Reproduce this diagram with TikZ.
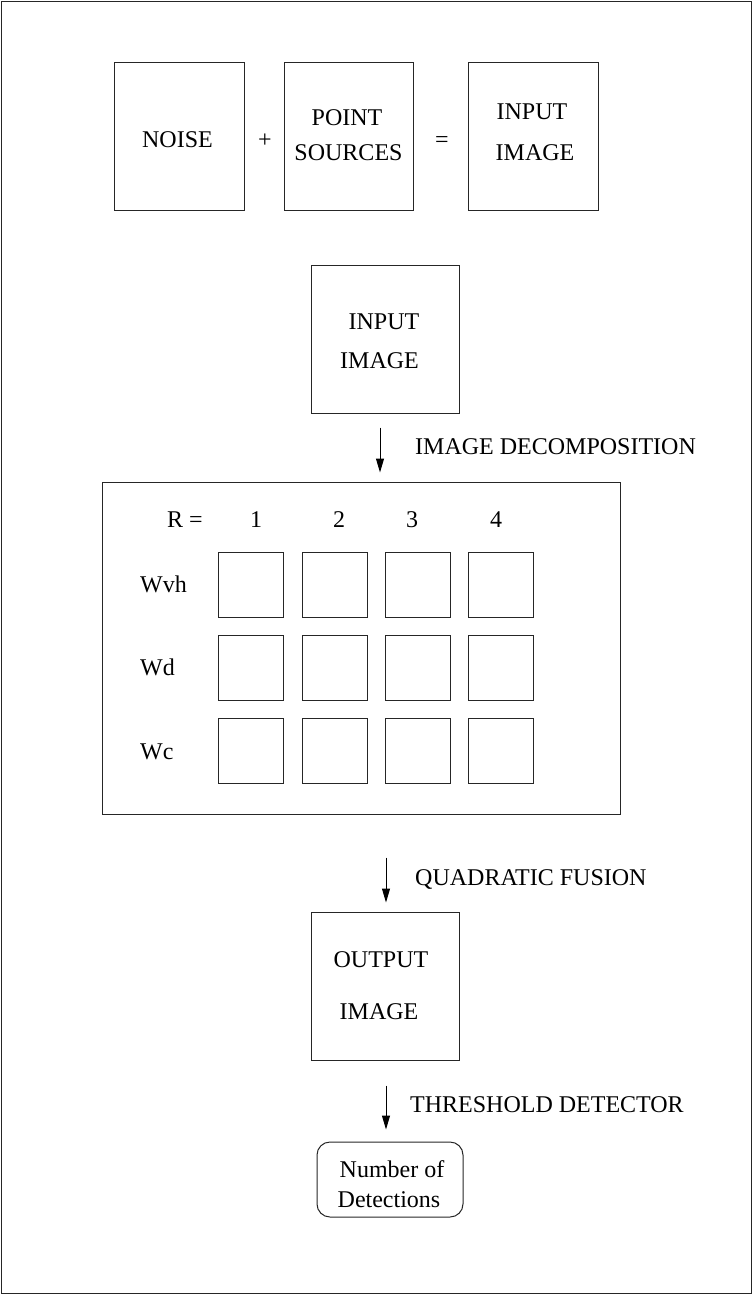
\documentclass[tikz,border=0pt]{standalone}
\usepackage{fontspec}
\setmainfont{Liberation Serif}
\usetikzlibrary{arrows.meta}
\begin{document}
\begin{tikzpicture}[x=1pt,y=-1pt,
  every node/.style={font=\fontsize{24}{28}\selectfont},
  box/.style={draw=black!85,line width=1pt,inner sep=0pt},
  txt/.style={inner sep=0pt,text height=15.9pt,text depth=0pt},
  arr/.style={draw=black,line width=1pt,-{Triangle[length=14pt,width=8pt]}}]
\useasboundingbox (0,0) rectangle (752,1294);
\draw[black!85,line width=1pt] (1,1) rectangle (751,1293);
% top row
\node[box,minimum width=130pt,minimum height=148pt] (noise) at (179,136) {};
\node[box,minimum width=129pt,minimum height=148pt] (ps) at (348.5,136) {};
\node[box,minimum width=130pt,minimum height=148pt] (ii) at (533,136) {};
\node[txt] (tnoise) at (177.5,140) {NOISE};
\node[txt] (tplus) at (265,140) {+};
\node[txt] (tpoint) at (347,118) {POINT};
\node[txt] (tsrc) at (348.5,153) {SOURCES};
\node[txt] (teq) at (442,140) {=};
\node[txt] (tin1) at (532,112) {INPUT};
\node[txt] (tim1) at (535,153) {IMAGE};
% input image
\node[box,minimum width=148pt,minimum height=148pt] (in2) at (385,339) {};
\node[txt] (tin2) at (384,322) {INPUT};
\node[txt] (tim2) at (379.5,361) {IMAGE};
% decomposition box
\node[box,minimum width=518pt,minimum height=332pt] (big) at (361,648) {};
\node[txt] (tr) at (185,520) {R =};
\node[txt] (r1) at (256,520) {1};
\node[txt] (r2) at (339,520) {2};
\node[txt] (r3) at (412,520) {3};
\node[txt] (r4) at (496,520) {4};
\node[txt,anchor=west] (wvh) at (140,585) {Wvh};
\node[txt,anchor=west] (wd) at (140,668) {Wd};
\node[txt,anchor=west] (wc) at (140,752) {Wc};
\foreach \r/\y in {1/584.5,2/667.5,3/750.5}{
  \foreach \c/\x in {1/250.5,2/334.5,3/417.5,4/500.5}{
    \node[box,minimum width=65pt,minimum height=65pt] (g\r\c) at (\x,\y) {};
  }
}
% output image
\node[box,minimum width=148pt,minimum height=148pt] (out) at (385,986) {};
\node[txt] (tout) at (381,960) {OUTPUT};
\node[txt] (tim3) at (379,1012) {IMAGE};
% detections
\node[box,rounded corners=13pt,minimum width=146pt,minimum height=75pt] (det) at (390,1179.5) {};
\node[txt] (tnum) at (392,1170) {Number of};
\node[txt] (tdet) at (389,1200) {Detections};
% arrows
\coordinate (c1) at (380,0);
\coordinate (c2) at (386,0);
\draw[arr,shorten <=14pt,shorten >=9pt] (in2.south -| c1) -- (big.north -| c1);
\draw[arr,shorten <=43pt,shorten >=9pt] (big.south -| c2) -- (out.north -| c2);
\draw[arr,shorten <=25pt,shorten >=12pt] (out.south -| c2) -- (det.north -| c2);
\node[txt,anchor=west] (l1) at (415,447) {IMAGE DECOMPOSITION};
\node[txt,anchor=west] (l2) at (415,878) {QUADRATIC FUSION};
\node[txt,anchor=west] (l3) at (410,1105) {THRESHOLD DETECTOR};
\end{tikzpicture}
\end{document}
